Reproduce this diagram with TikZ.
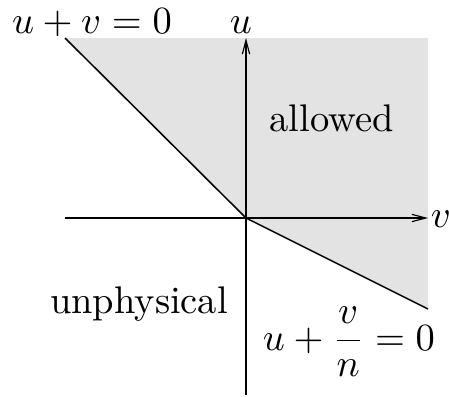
\documentclass[tikz,border=0pt]{standalone}
\usetikzlibrary{arrows.meta}
\begin{document}
\begin{tikzpicture}[x=0.2597pt,y=-0.2597pt,
  region/.style={fill=black!11,draw=none},
  axis/.style={-{Straight Barb[length=3.6pt,width=1.9pt,line width=0.3pt]},line width=0.35pt},
  bound/.style={line width=0.4pt},
  lab/.style={anchor=base,inner sep=0pt}]
\useasboundingbox (0,0) rectangle (449,396);
\coordinate (O) at (246,218);
\coordinate (TL) at (65,38);
\coordinate (BR) at (428,309);
\coordinate (TR) at (428,38);
\coordinate (XL) at (65,218);
\coordinate (XR) at (428,218);
\coordinate (YB) at (246,395);
\coordinate (YT) at (246,38);
\fill[region] (TL) -- (O) -- (BR) -- (TR) -- cycle;
\draw[axis] (XL) -- (XR);
\draw[axis] (YB) -- (YT);
\draw[bound] (TL) -- (O);
\draw[bound] (O) -- (BR);
\node[lab] (l1) at (92,33) {$u+v=0$};
\node[lab] (lu) at (241,33) {$u$};
\node[lab] (lv) at (441,227) {$v$};
\node[lab] (la) at (331.5,131) {allowed};
\node[lab] (lp) at (139,313) {unphysical};
\node[lab] (l2) at (349,350) {$\displaystyle u+\frac{v}{n}=0$};
\end{tikzpicture}
\end{document}
